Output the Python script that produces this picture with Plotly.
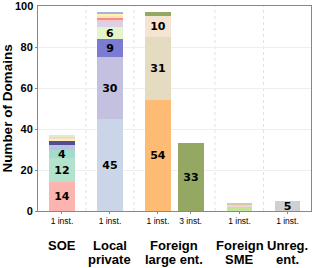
import plotly.graph_objects as go

# ---- data ----
bar_positions = [0, 1, 2, 2.68, 3.7, 4.7]
bar_ticklabels = ["1 inst.", "1 inst.", "1 inst.", "3 inst.", "1 inst.", "1 inst."]
group_labels_line1 = ["SOE", "Local", "Foreign", "Foreign", "Unreg."]
group_labels_line2 = ["", "private", "large ent.", "SME", "ent."]
group_centers = [0, 1, 2.34, 3.7, 4.7]
separators = [0.5, 1.5, 3.19, 4.2]
y_ticks = [0, 20, 40, 60, 80, 100]

soe_values = [14, 12, 4, 2, 2, 1, 1, 1]
local_values = [45, 30, 9, 6, 2, 1, 1, 1, 1, 1]
foreign_large_1_values = [54, 31, 10, 2]
foreign_large_3_values = [33]
foreign_sme_values = [2, 1, 1]
unreg_values = [5]

soe_colors = ["#fbb4ae", "#b3e2cd", "#a3dccf", "#b9c2e2", "#4f4f92", "#fff2ae", "#fdd5c8", "#d9f0c3"]
local_colors = ["#cbd5e8", "#c4c0e0", "#7b7bd2", "#e6f5c9", "#dccfe8", "#f9c4c4", "#f28e8c", "#fde3b6", "#fff3a8", "#a7b2e6"]
foreign_large_1_colors = ["#fdbb73", "#e5dbc1", "#f5e4d1", "#93a862"]
foreign_large_3_colors = ["#94a863"]
foreign_sme_colors = ["#c3e49a", "#f6cfe0", "#c9d29b"]
unreg_colors = ["#d0d0d0"]

stacks = [
    (bar_positions[0], soe_values, soe_colors),
    (bar_positions[1], local_values, local_colors),
    (bar_positions[2], foreign_large_1_values, foreign_large_1_colors),
    (bar_positions[3], foreign_large_3_values, foreign_large_3_colors),
    (bar_positions[4], foreign_sme_values, foreign_sme_colors),
    (bar_positions[5], unreg_values, unreg_colors),
]

fig = go.Figure()
for pos, vals, cols in stacks:
    for v, c in zip(vals, cols):
        fig.add_trace(go.Bar(
            x=[pos], y=[v], width=0.54,
            marker=dict(color=c, line=dict(width=0)),
            text=[str(v) if v >= 4 else ""],
            textposition="inside", insidetextanchor="middle", textangle=0,
            textfont=dict(family="DejaVu Sans", size=11, color="black", weight="bold"),
            showlegend=False, hoverinfo="skip", cliponaxis=False,
        ))

for s in separators:
    fig.add_shape(type="line", xref="x", yref="paper", x0=s, x1=s, y0=0, y1=1,
                  line=dict(color="#e2e2e2", width=1, dash="dot"), layer="below")

gfont = dict(family="Liberation Sans", size=13, color="black", weight="bold")
for gx, l1, l2 in zip(group_centers, group_labels_line1, group_labels_line2):
    fig.add_annotation(x=gx, y=0, xref="x", yref="paper", text=l1, showarrow=False,
                       yanchor="middle", yshift=-34, font=gfont)
    if l2:
        fig.add_annotation(x=gx, y=0, xref="x", yref="paper", text=l2, showarrow=False,
                           yanchor="middle", yshift=-48, font=gfont)

# top tick label (plotly drops the end label at the frame edge)
fig.add_annotation(x=0, xref="paper", y=y_ticks[-1], yref="y", text=str(y_ticks[-1]),
                   showarrow=False, xanchor="right", yanchor="middle", xshift=-3,
                   font=dict(family="Liberation Sans", size=11, color="black", weight="bold"))

fig.update_layout(
    width=313, height=268,
    margin=dict(l=38, r=2, t=6, b=57, autoexpand=False),
    barmode="stack", bargap=0,
    plot_bgcolor="white", paper_bgcolor="white",
    uniformtext=dict(minsize=11, mode="show"),
    xaxis=dict(range=[-0.5, 5.19], tickvals=bar_positions, ticktext=bar_ticklabels,
               tickfont=dict(family="Liberation Sans", size=8.5, color="black"),
               showgrid=False, showline=True, linecolor="#888888", linewidth=1, mirror=True,
               ticks="outside", ticklen=2, tickcolor="#888888", zeroline=False, automargin=False),
    yaxis=dict(range=[0, 100.01], tickvals=y_ticks[:-1],
               tickfont=dict(family="Liberation Sans", size=11, color="black", weight="bold"),
               showgrid=True, gridcolor="#efefef", gridwidth=1,
               showline=True, linecolor="#888888", linewidth=1, mirror=True,
               ticks="outside", ticklen=2, tickcolor="#888888", zeroline=False, automargin=False,
               title=dict(text="Number of Domains", standoff=4,
                          font=dict(family="Liberation Sans", size=13.5, color="black", weight="bold"))),
)

fig.write_html("out.html", config={"displayModeBar": False},
               post_script="document.body.style.margin='0';document.body.style.padding='0';")
